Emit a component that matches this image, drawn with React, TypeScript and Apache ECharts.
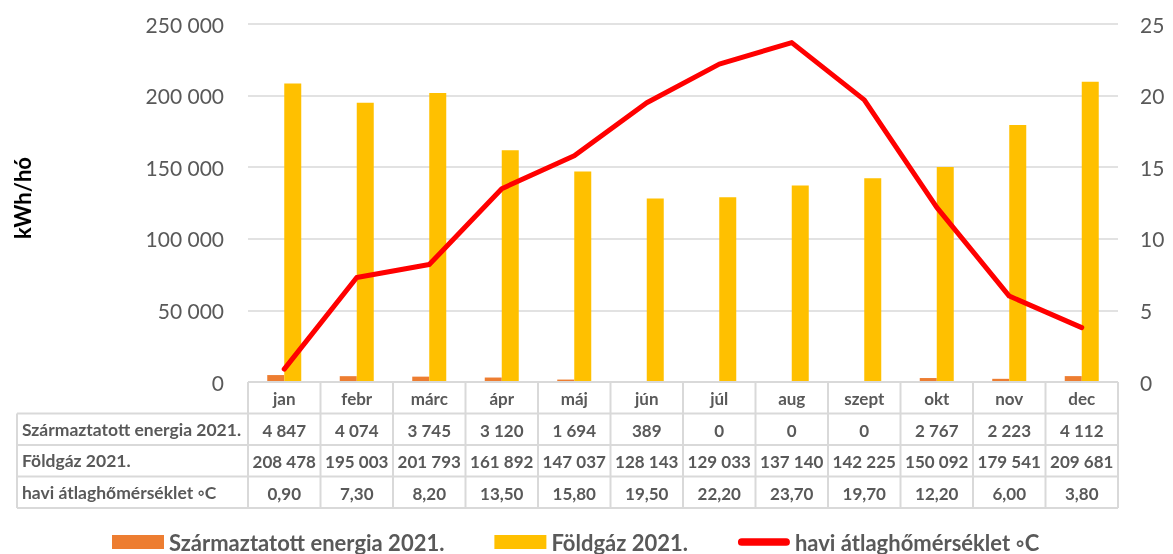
import React, { useEffect, useRef } from "react";
import * as echarts from "echarts";

const months = ["jan", "febr", "márc", "ápr", "máj", "jún", "júl", "aug", "szept", "okt", "nov", "dec"];
const derivedEnergy = [4847, 4074, 3745, 3120, 1694, 389, 0, 0, 0, 2767, 2223, 4112];
const naturalGas = [208478, 195003, 201793, 161892, 147037, 128143, 129033, 137140, 142225, 150092, 179541, 209681];
const avgTemp = [0.9, 7.3, 8.2, 13.5, 15.8, 19.5, 22.2, 23.7, 19.7, 12.2, 6.0, 3.8];

const seriesNames = ["Származtatott energia 2021.", "Földgáz 2021.", "havi átlaghőmérséklet ◦C"];
const yAxisTitle = "kWh/hó";

const fmtInt = (v: number) => String(Math.round(v)).replace(/\B(?=(\d{3})+(?!\d))/g, " ");
const fmtTemp = (v: number) => v.toFixed(2).replace(".", ",");

const W = 1173;
const H = 554;
const L = 248;
const R = 1118;
const T = 24;
const B = 382;
const ROW = 31.5;
const TABLE_LEFT = 17;
const FONT = "Lato, 'Noto Sans', sans-serif";
const GRAY = "#595959";
const LINE = "#D9D9D9";

export default function App() {
  const ref = useRef<HTMLDivElement>(null);
  useEffect(() => {
    if (!ref.current) return;
    const chart = echarts.init(ref.current, null, { renderer: "svg" });
    const cw = (R - L) / months.length;
    const graphics: any[] = [];
    const hl = (x1: number, x2: number, y: number) =>
      graphics.push({ type: "line", silent: true, z: 10, shape: { x1, y1: y, x2, y2: y }, style: { stroke: LINE, lineWidth: 2 } });
    const vl = (x: number, y1: number, y2: number) =>
      graphics.push({ type: "line", silent: true, z: 10, shape: { x1: x, y1, x2: x, y2 }, style: { stroke: LINE, lineWidth: 2 } });
    hl(L, R, B);
    for (let r = 1; r <= 4; r++) hl(TABLE_LEFT, R, B + r * ROW);
    for (let i = 0; i <= months.length; i++) vl(L + i * cw, B, B + 4 * ROW);
    vl(TABLE_LEFT, B + ROW, B + 4 * ROW);
    seriesNames.forEach((n, r) => {
      graphics.push({
        type: "text",
        silent: true,
        x: TABLE_LEFT + 5,
        y: B + (r + 1.5) * ROW,
        style: { text: n, fill: GRAY, font: `bold 17.5px ${FONT}`, align: "left", verticalAlign: "middle" },
      });
    });
    graphics.push({
      type: "text",
      silent: true,
      x: 22,
      y: 198,
      rotation: Math.PI / 2,
      style: { text: yAxisTitle, fill: "#000", font: `bold 22px ${FONT}`, align: "center", verticalAlign: "middle" },
    });

    const tableRows = [derivedEnergy.map(fmtInt), naturalGas.map(fmtInt), avgTemp.map(fmtTemp)];
    const baseLabel = { fontFamily: FONT, fontSize: 17, fontWeight: "bold", color: GRAY, interval: 0, margin: 8, lineHeight: 17 };

    const xAxes: any[] = [
      {
        type: "category",
        data: months,
        axisLine: { show: false },
        axisTick: { show: false },
        axisLabel: { ...baseLabel },
      },
      ...tableRows.map((row, r) => ({
        type: "category",
        data: months,
        position: "bottom",
        offset: (r + 1) * ROW,
        axisLine: { show: false },
        axisTick: { show: false },
        splitLine: { show: false },
        axisLabel: { ...baseLabel, formatter: (_v: string, i: number) => row[i] },
      })),
    ];

    const legendLine = "path://M4,0 L50,0 A4,4 0 0 1 50,8 L4,8 A4,4 0 0 1 4,0 Z";

    chart.setOption({
      animation: false,
      grid: { left: L, right: W - R, top: T, bottom: H - B, containLabel: false },
      xAxis: xAxes,
      yAxis: [
        {
          type: "value",
          min: 0,
          max: 250000,
          interval: 50000,
          axisLine: { show: false },
          axisTick: { show: false },
          splitLine: { lineStyle: { color: LINE, width: 1.5 } },
          axisLabel: { fontFamily: FONT, fontSize: 21, color: GRAY, margin: 24, formatter: (v: number) => fmtInt(v) },
        },
        {
          type: "value",
          min: 0,
          max: 25,
          interval: 5,
          position: "right",
          axisLine: { show: false },
          axisTick: { show: false },
          splitLine: { show: false },
          axisLabel: { fontFamily: FONT, fontSize: 21, color: GRAY, margin: 22 },
        },
      ],
      legend: {
        left: 112,
        top: 531,
        padding: 0,
        itemWidth: 52,
        itemHeight: 14,
        itemGap: 50,
        textStyle: { fontFamily: FONT, fontSize: 22, lineHeight: 22, fontWeight: "bold", color: GRAY },
        data: [
          { name: seriesNames[0], icon: "rect" },
          { name: seriesNames[1], icon: "rect" },
          { name: seriesNames[2], icon: legendLine },
        ],
      },
      graphic: graphics,
      series: [
        {
          name: seriesNames[0],
          type: "bar",
          data: derivedEnergy,
          barWidth: 17,
          barGap: "0%",
          itemStyle: { color: "#ED7D31" },
        },
        {
          name: seriesNames[1],
          type: "bar",
          data: naturalGas,
          barWidth: 17,
          barGap: "0%",
          itemStyle: { color: "#FFC000" },
        },
        {
          name: seriesNames[2],
          type: "line",
          yAxisIndex: 1,
          data: avgTemp,
          symbol: "none",
          itemStyle: { color: "#FF0000" },
          lineStyle: { color: "#FF0000", width: 5, cap: "round", join: "round" },
          z: 5,
        },
      ],
    });
    return () => chart.dispose();
  }, []);
  return <div ref={ref} style={{ position: "fixed", left: 0, top: 0, width: W, height: H }} />;
}
